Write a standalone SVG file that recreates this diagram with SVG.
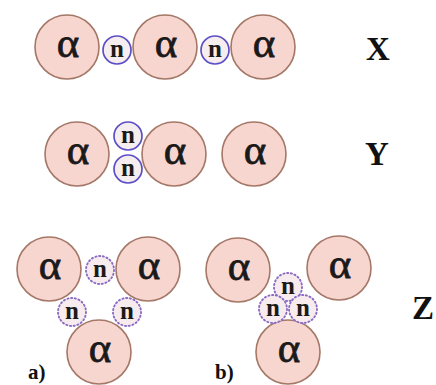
<svg xmlns="http://www.w3.org/2000/svg" width="436" height="385" viewBox="0 0 436 385">
<style>
.a{fill:#f8d6d0;stroke:#a47767;stroke-width:1.6}
.n{fill:#f6eeee;stroke:#5c4fc6;stroke-width:1.7}
.d{fill:#f7ebee;stroke:#8a6cc4;stroke-width:1.9;stroke-dasharray:1.2 2.6;stroke-linecap:round}
.at{font-family:"Liberation Serif","Times New Roman",serif;font-size:43px;fill:#1a1a1a;stroke:#1a1a1a;stroke-width:0.8;text-anchor:middle}
.nt{font-family:"Liberation Serif","Times New Roman",serif;font-weight:bold;font-size:25px;fill:#1a1a1a;text-anchor:middle}
.lb{font-family:"Liberation Serif","Times New Roman",serif;font-weight:bold;font-size:33px;fill:#111;text-anchor:middle}
.sl{font-family:"Liberation Serif","Times New Roman",serif;font-weight:bold;font-size:21px;fill:#111}
</style>
<rect width="436" height="385" fill="#ffffff"/>
<g id="connectors"/>
<!-- Row X -->
<g id="x-a1"><circle class="a" cx="67" cy="47" r="32"/><text class="at" x="68" y="57">α</text></g>
<g id="x-n1"><circle class="n" cx="117" cy="50" r="14"/><text class="nt" x="117" y="57">n</text></g>
<g id="x-a2"><circle class="a" cx="165" cy="47" r="32"/><text class="at" x="166" y="57">α</text></g>
<g id="x-n2"><circle class="n" cx="215" cy="50" r="14"/><text class="nt" x="215" y="57">n</text></g>
<g id="x-a3"><circle class="a" cx="263" cy="47" r="32"/><text class="at" x="264" y="57">α</text></g>
<g id="label-x"><text class="lb" x="378" y="60">X</text></g>
<!-- Row Y -->
<g id="y-a1"><circle class="a" cx="77" cy="154" r="32"/><text class="at" x="78" y="164">α</text></g>
<g id="y-n1"><circle class="n" cx="128" cy="136" r="14"/><text class="nt" x="128" y="143">n</text></g>
<g id="y-n2"><circle class="n" cx="128" cy="169" r="14"/><text class="nt" x="128" y="176">n</text></g>
<g id="y-a2"><circle class="a" cx="174" cy="154" r="32"/><text class="at" x="175" y="164">α</text></g>
<g id="y-a3"><circle class="a" cx="254" cy="154" r="32"/><text class="at" x="255" y="164">α</text></g>
<g id="label-y"><text class="lb" x="377" y="165">Y</text></g>
<!-- Row Z a -->
<g id="za-a1"><circle class="a" cx="49" cy="269" r="32"/><text class="at" x="50" y="279">α</text></g>
<g id="za-a2"><circle class="a" cx="148" cy="269" r="32"/><text class="at" x="149" y="279">α</text></g>
<g id="za-a3"><circle class="a" cx="99" cy="352" r="32"/><text class="at" x="100" y="362">α</text></g>
<g id="za-n1"><circle class="d" cx="100" cy="270" r="14"/><text class="nt" x="100" y="277">n</text></g>
<g id="za-n2"><circle class="d" cx="72" cy="312" r="14"/><text class="nt" x="72" y="319">n</text></g>
<g id="za-n3"><circle class="d" cx="127" cy="312" r="14"/><text class="nt" x="127" y="319">n</text></g>
<g id="label-a"><text class="sl" x="28" y="379">a)</text></g>
<!-- Row Z b -->
<g id="zb-a1"><circle class="a" cx="238" cy="270" r="32"/><text class="at" x="239" y="280">α</text></g>
<g id="zb-a2"><circle class="a" cx="339" cy="268" r="32"/><text class="at" x="340" y="278">α</text></g>
<g id="zb-a3"><circle class="a" cx="288" cy="352" r="32"/><text class="at" x="289" y="362">α</text></g>
<g id="zb-n1"><circle class="d" cx="288" cy="287" r="14"/></g>
<g id="zb-n2"><circle class="d" cx="273" cy="309" r="14"/></g>
<g id="zb-n3"><circle class="d" cx="303" cy="309" r="14"/></g>
<g id="zb-nt"><text class="nt" x="288" y="294">n</text><text class="nt" x="273" y="316">n</text><text class="nt" x="303" y="316">n</text></g>
<g id="label-b"><text class="sl" x="215" y="379">b)</text></g>
<g id="label-z"><text class="lb" x="423" y="319">Z</text></g>
</svg>
